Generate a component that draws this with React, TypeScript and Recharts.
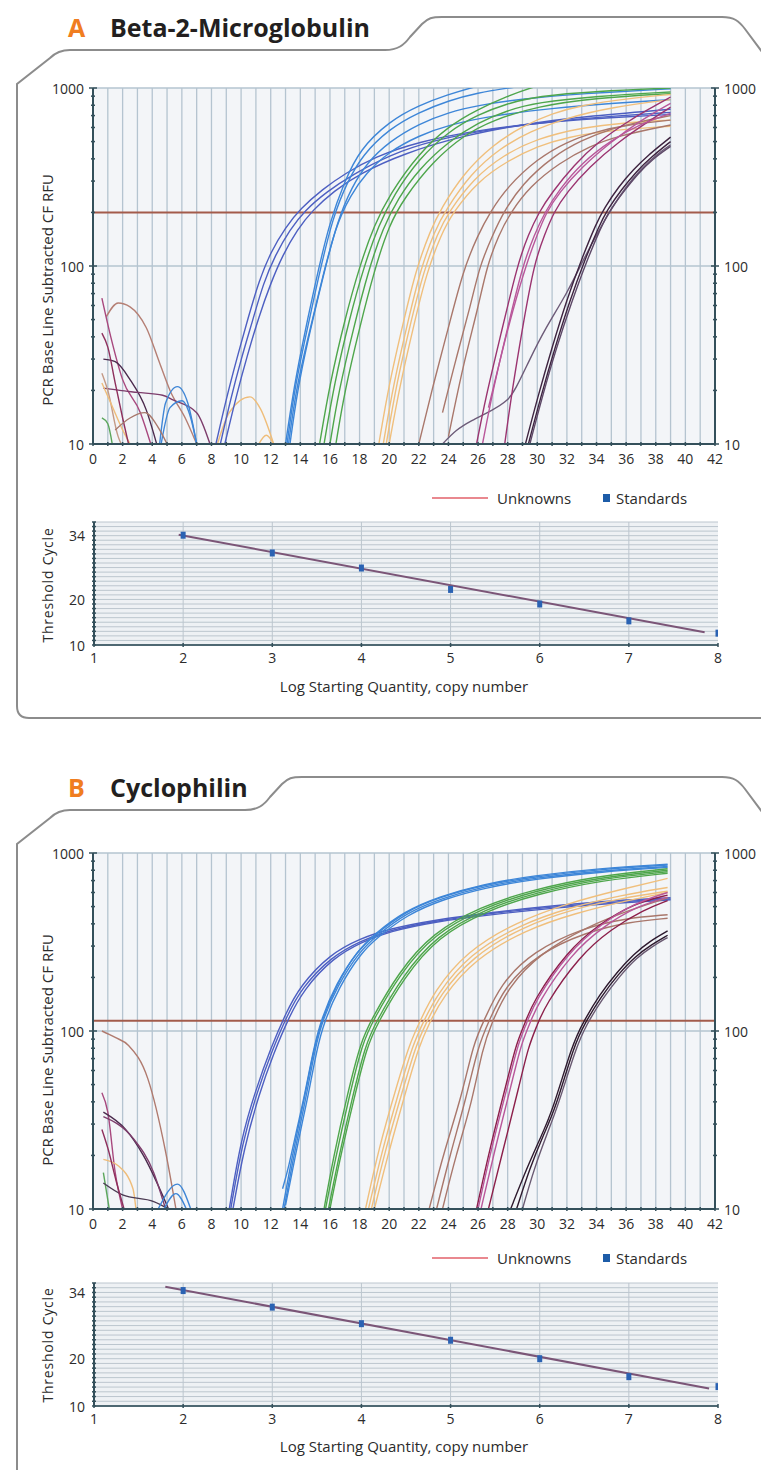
import {
  LineChart,
  Line,
  XAxis,
  YAxis,
  CartesianGrid,
  ReferenceLine,
  ComposedChart,
  Scatter,
} from 'recharts'

type Pt = [number, number]

// amplification curves, [cycle, RFU] pairs
const A_DARK_BLUE: Pt[][] = [
  [[8.3, 10], [9, 18], [9.7, 30], [10.5, 52], [11.2, 82], [12, 120], [13, 165], [14, 210], [15.5, 270], [17, 330], [19, 410], [22, 500], [26, 580], [30, 635], [34, 675], [39, 710]],
  [[8.6, 10], [9.3, 18], [10, 30], [10.8, 50], [11.5, 80], [12.3, 115], [13.3, 160], [14.3, 205], [15.8, 262], [17.5, 325], [20, 420], [23, 510], [27, 590], [31, 650], [35, 695], [39, 730]],
  [[8.9, 10], [9.7, 19], [10.4, 31], [11.2, 52], [12, 80], [12.8, 115], [13.8, 160], [14.8, 205], [16.3, 265], [18, 330], [21, 430], [25, 540], [29, 625], [33, 690], [39, 760]],
]
const A_LIGHT_BLUE: Pt[][] = [
  [[13.0, 10], [13.5, 19], [14, 32], [15, 80], [16, 180], [17, 300], [18, 450], [20, 650], [22, 800], [24, 920], [25.5, 1000], [27, 1080]],
  [[13.1, 10], [13.6, 20], [14.2, 35], [15.2, 85], [16.2, 190], [17.2, 300], [18.2, 420], [20, 590], [22, 730], [24, 850], [26, 940], [28, 1000], [30, 1050]],
  [[13.3, 10], [13.8, 20], [14.5, 38], [15.5, 85], [16.5, 180], [17.5, 280], [18.5, 380], [20, 500], [22, 630], [24, 730], [26, 800], [29, 870], [33, 930], [39, 990]],
  [[13.2, 10], [13.7, 20], [14.4, 36], [15.4, 80], [16.4, 170], [17.4, 250], [18.4, 330], [20, 440], [22, 540], [24, 620], [27, 700], [31, 770], [35, 820], [39, 860]],
]
const A_GREEN: Pt[][] = [
  [[15.3, 10], [16, 22], [17, 50], [18, 100], [19, 170], [20, 250], [22, 430], [24, 610], [26, 760], [28, 900], [29.5, 1000], [31, 1080]],
  [[15.6, 10], [16.3, 22], [17.3, 50], [18.3, 100], [19.3, 170], [20.3, 250], [22, 400], [24, 570], [26, 710], [28, 820], [30, 900], [34, 960], [39, 1000]],
  [[16.0, 10], [16.6, 20], [17.6, 45], [18.6, 95], [19.6, 165], [20.6, 240], [22, 350], [24, 500], [26, 640], [28, 750], [30, 830], [34, 900], [39, 950]],
  [[16.4, 10], [17, 20], [18, 45], [19, 95], [20, 170], [21, 240], [23, 390], [25, 540], [27, 660], [30, 790], [34, 880], [39, 930]],
]
const A_ORANGE: Pt[][] = [
  [[19.3, 10], [20, 22], [21, 50], [21.8, 95], [22.8, 160], [23.5, 210], [25, 330], [27, 480], [29, 610], [31, 720], [33, 800], [36, 870], [39, 920]],
  [[19.6, 10], [20.3, 22], [21.3, 50], [22.1, 95], [23.1, 160], [23.8, 205], [25.5, 330], [27.5, 460], [29.5, 570], [32, 680], [35, 780], [39, 860]],
  [[20.0, 10], [20.7, 21], [21.7, 48], [22.5, 90], [23.5, 150], [24.3, 200], [26, 300], [28, 390], [30, 470], [32, 530], [35, 580], [39, 610]],
  [[19.8, 10], [20.5, 22], [21.5, 50], [22.3, 92], [23.3, 155], [24, 200], [25.7, 310], [27.7, 420], [30, 520], [33, 600], [36, 640], [39, 660]],
]
const A_BROWN: Pt[][] = [
  [[22.0, 10], [23, 22], [24, 45], [25, 95], [26, 150], [26.8, 200], [28, 280], [30, 400], [32, 500], [34, 570], [36, 620], [39, 660]],
  [[23.6, 15], [24.5, 30], [25.5, 60], [26.1, 100], [27, 150], [27.7, 200], [29, 290], [31, 410], [33, 510], [35, 590], [37, 650], [39, 700]],
  [[24.0, 11], [25, 28], [26, 58], [26.6, 100], [27.4, 150], [28.2, 200], [29.5, 280], [31.5, 380], [33.5, 470], [35.5, 540], [39, 620]],
]
const A_MAGENTA: Pt[][] = [
  [[25.9, 10], [26.5, 18], [27.5, 40], [28.7, 105], [29.4, 150], [30.1, 200], [31, 260], [32.5, 370], [34, 490], [36, 640], [37.5, 760], [39, 890]],
  [[26.7, 16], [27.5, 30], [28.3, 55], [29.3, 105], [30, 150], [30.6, 200], [31.5, 260], [33, 360], [35, 500], [37, 660], [39, 820]],
  [[27.8, 10], [28.3, 20], [29, 45], [29.8, 105], [30.5, 150], [31.1, 200], [32, 260], [33.5, 360], [35.5, 500], [37.5, 650], [39, 780]],
  [[26.3, 10], [27, 20], [28, 45], [29, 100], [29.8, 150], [30.5, 200], [31.5, 270], [33, 380], [35, 510], [37, 630], [39, 720]],
]
const A_DARK: Pt[][] = [
  [[29.2, 10], [30, 18], [31, 35], [32, 65], [33, 110], [34, 175], [34.5, 210], [35.5, 280], [36.5, 350], [37.5, 420], [38.5, 490], [39, 530]],
  [[29.5, 10], [30.3, 18], [31.3, 35], [32.3, 62], [33.3, 105], [34.3, 165], [34.8, 200], [35.8, 260], [36.8, 330], [37.8, 400], [39, 470]],
  [[29.4, 10], [30.2, 18], [31.2, 35], [32.2, 64], [33.2, 108], [34.2, 170], [34.7, 205], [35.7, 270], [36.7, 340], [37.7, 410], [39, 500]],
]
const A_SLATE: Pt[][] = [
  [[23.6, 10], [24.5, 12], [25.5, 13.5], [27, 15.5], [28, 17.5], [28.5, 20], [29.5, 30], [30.5, 44], [32, 70], [33.1, 108], [34, 150], [35, 210], [36, 280], [37, 350], [38, 420], [39, 480]],
]
const A_NOISE: Pt[][] = [
  [[0.9, 52], [1.7, 62], [2.5, 59], [3.6, 45], [4.5, 28.5], [5.2, 20], [6.3, 13.6], [7, 10]],
  [[0.6, 66], [1.2, 40], [2, 23], [3.2, 15], [3.9, 10]],
  [[0.7, 30], [1.5, 29], [2.5, 23], [3.6, 15.5], [4.3, 10]],
  [[0.7, 20.6], [1.8, 20], [3, 19.5], [4.7, 18.8], [5.4, 17.7], [7, 15], [7.9, 10]],
  [[4.5, 10], [4.9, 17], [5.7, 21], [6.4, 17], [7, 10]],
  [[4.6, 10], [5.2, 16], [6, 17.5], [6.6, 14], [7, 10]],
  [[8.4, 10], [9.2, 15], [10.6, 18.4], [11.3, 15.8], [12.2, 10]],
  [[11.2, 10], [11.7, 11.2], [12.2, 10]],
  [[0.6, 25], [1, 20], [1.7, 11], [1.9, 10]],
  [[0.6, 14], [1, 13], [1.3, 10]],
  [[0.6, 22], [1.2, 17], [2, 12], [2.5, 10]],
  [[0.6, 42], [1, 35], [1.5, 22], [2, 14], [2.4, 10]],
  [[1.5, 12], [2.5, 14], [3.5, 15], [4.5, 12], [5, 10]],
]

const B_DARK_BLUE: Pt[][] = [
  [[9.2, 10], [10, 25], [11, 47], [12, 80], [13, 125], [14, 180], [16, 270], [18, 330], [20, 375], [23, 420], [27, 465], [31, 505], [35, 540], [39, 560]],
  [[9.3, 10], [10.1, 24], [11.1, 46], [12.1, 78], [13.1, 122], [14.1, 175], [16.1, 262], [18.1, 322], [20, 368], [23, 415], [27, 460], [31, 498], [35, 530], [39, 552]],
  [[9.45, 10], [10.2, 22], [11.2, 44], [12.2, 75], [13.2, 118], [14.2, 170], [16.2, 258], [18.2, 318], [20, 362], [23, 410], [27, 452], [31, 490], [35, 522], [39, 545]],
]
const B_LIGHT_BLUE: Pt[][] = [
  [[12.8, 10], [13.3, 17], [13.9, 30], [14.3, 43], [14.9, 78], [15.4, 112], [16.4, 180], [17.8, 280], [19, 345], [21, 465], [23.4, 565], [26.3, 660], [29.7, 735], [34.2, 810], [38.8, 855]],
  [[12.9, 10], [13.4, 17], [14, 30], [14.4, 43], [15, 80], [15.5, 115], [16.5, 180], [18, 280], [19.1, 340], [21.1, 458], [23.5, 555], [26.4, 650], [29.8, 725], [34.3, 795], [38.8, 840]],
  [[13.0, 10.5], [13.5, 17], [14.1, 30], [14.5, 42], [15.1, 78], [15.6, 112], [16.6, 176], [18.1, 275], [19.2, 335], [21.2, 450], [23.6, 548], [26.5, 640], [29.9, 715], [34.4, 785], [38.8, 830]],
  [[12.8, 13], [13.2, 17], [13.8, 29], [14.3, 44], [14.9, 80], [15.4, 116], [16.4, 184], [17.9, 285], [19, 350], [21, 470], [23.4, 570], [26.3, 668], [29.7, 745], [34.2, 820], [38.8, 865]],
]
const B_GREEN: Pt[][] = [
  [[15.7, 10], [16.3, 18], [17.3, 43], [18.2, 86], [18.9, 114], [20.7, 208], [23, 350], [26.3, 490], [29.7, 610], [34.2, 730], [38.8, 800]],
  [[15.9, 10], [16.5, 18], [17.5, 42], [18.4, 84], [19.1, 112], [20.9, 204], [23.2, 345], [26.5, 485], [29.9, 600], [34.4, 720], [38.8, 785]],
  [[15.6, 10], [16.2, 19], [17.2, 45], [18.1, 88], [18.8, 116], [20.6, 212], [22.9, 356], [26.2, 500], [29.6, 620], [34.1, 745], [38.8, 815]],
  [[16.0, 10], [16.6, 18], [17.6, 41], [18.5, 82], [19.2, 110], [21, 200], [23.3, 340], [26.6, 475], [30, 590], [34.5, 705], [38.8, 770]],
]
const B_ORANGE: Pt[][] = [
  [[18.4, 10], [19.3, 22], [20.5, 49], [21.4, 86], [22.1, 114], [23, 165], [25.2, 280], [28.6, 410], [32, 520], [35.5, 620], [38.8, 720]],
  [[18.6, 10], [19.5, 21], [20.7, 47], [21.6, 84], [22.3, 112], [23.2, 160], [25.4, 270], [28.8, 395], [32.2, 495], [35.7, 580], [38.8, 640]],
  [[19.0, 10], [19.9, 20], [21.1, 45], [22, 82], [22.7, 110], [23.6, 155], [25.8, 255], [29.2, 370], [32.6, 460], [36, 540], [38.8, 600]],
  [[18.8, 10], [19.7, 21], [20.9, 46], [21.8, 83], [22.5, 111], [23.4, 158], [25.6, 262], [29, 385], [32.4, 485], [35.8, 560], [38.8, 610]],
]
const B_BROWN: Pt[][] = [
  [[22.7, 10], [23.7, 21], [24.9, 43], [25.7, 86], [26.4, 114], [27.5, 183], [29.7, 280], [33.1, 380], [36, 430], [38.8, 450]],
  [[23.6, 10], [24.5, 20], [25.6, 40], [26.3, 80], [26.9, 110], [28, 175], [30.2, 275], [33.5, 390], [36.3, 480], [38.8, 560]],
  [[23.2, 10], [24.1, 20], [25.2, 42], [26, 82], [26.7, 112], [27.8, 178], [30, 270], [33.3, 360], [36.2, 410], [38.8, 430]],
]
const B_MAROON: Pt[][] = [
  [[25.9, 10], [26.8, 22], [28, 54], [28.6, 86], [29.2, 112], [29.7, 146], [32, 280], [34.2, 400], [36.5, 520], [38.8, 580]],
  [[26.2, 10], [27.1, 21], [28.3, 52], [28.9, 84], [29.5, 110], [30, 142], [32.3, 272], [34.5, 390], [36.8, 505], [38.8, 565]],
  [[26.7, 10], [27.6, 20], [28.8, 50], [29.4, 82], [30, 108], [30.5, 138], [32.8, 262], [35, 375], [37.2, 480], [38.8, 540]],
  [[26.0, 10], [26.9, 22], [28.1, 53], [28.7, 85], [29.3, 111], [29.8, 145], [32.1, 278], [34.3, 398], [36.6, 525], [38.8, 600]],
]
const B_DARK: Pt[][] = [
  [[28.2, 10], [29.3, 17], [30.2, 25], [31, 35], [32.4, 86], [33.1, 112], [34.2, 160], [35.4, 215], [36.5, 270], [37.6, 320], [38.8, 365]],
  [[29.0, 10], [29.8, 17], [30.7, 27], [31.4, 38], [32.6, 80], [33.3, 108], [34.4, 152], [35.6, 205], [36.7, 258], [37.8, 300], [38.8, 335]],
  [[28.6, 10], [29.5, 17], [30.4, 26], [31.2, 36], [32.5, 84], [33.2, 110], [34.3, 156], [35.5, 210], [36.6, 262], [37.7, 305], [38.8, 345]],
]
const B_NOISE: Pt[][] = [
  [[0.6, 100], [1.5, 92], [2.4, 83], [3.7, 54], [4.9, 21], [5.6, 10]],
  [[0.6, 45], [1, 35], [1.5, 16], [2, 10]],
  [[0.7, 35], [2.2, 28], [3.4, 20], [5.1, 10]],
  [[0.7, 33], [2.7, 25], [4.1, 16], [4.9, 10]],
  [[0.7, 19], [1.7, 17.5], [2.7, 13], [2.9, 10]],
  [[0.7, 16], [1.1, 10]],
  [[0.7, 14], [2, 12], [4.1, 11], [5.1, 10]],
  [[4.4, 10], [5.7, 13.8], [6.6, 10]],
  [[4.8, 10], [5.6, 12.2], [6.3, 10]],
  [[0.6, 28], [1, 22], [1.6, 14], [2.1, 10]],
]

const A_THRESHOLD = 200
const B_THRESHOLD = 114

const AMP_X_TICKS = [0, 1, 2, 3, 4, 5, 6, 7, 8, 9, 10, 11, 12, 13, 14, 15, 16, 17, 18, 19, 20, 21, 22, 23, 24, 25, 26, 27, 28, 29, 30, 31, 32, 33, 34, 35, 36, 37, 38, 39, 40, 41, 42]
const AMP_X_LABELS = [0, 2, 4, 6, 8, 10, 12, 14, 16, 18, 20, 22, 24, 26, 28, 30, 32, 34, 36, 38, 40, 42]
const AMP_Y_LABELS = [10, 100, 1000]
const AMP_Y_MINOR = [20, 30, 40, 50, 60, 70, 80, 90, 200, 300, 400, 500, 600, 700, 800, 900]

// standard curves: log starting quantity vs threshold cycle
const STD_X = [2, 3, 4, 5, 6, 7, 8]
const A_STD_CT = [34.1, 30.2, 26.9, 22.2, 19.0, 15.3, 12.6]
const B_STD_CT = [34.4, 30.9, 27.4, 23.9, 20.0, 16.2, 14.1]
const A_FIT_X = [1.95, 7.85]
const A_FIT_CT = [34.2, 12.8]
const B_FIT_X = [1.8, 7.9]
const B_FIT_CT = [35.2, 13.7]
const STD_X_TICKS = [1, 2, 3, 4, 5, 6, 7, 8]
const STD_Y_LABELS = [10, 20, 34]

const FONT = "'Open Sans', sans-serif"
const AXIS = '#34505b'
const CYCLE_GRID = AMP_X_TICKS.filter((t) => t > 0 && t < 42)

const toPts = (c: Pt[]) => c.map(([x, v]) => ({ c: x, v }))

function CycleTick(props: any) {
  const { x, y, payload } = props
  const v = payload.value
  const axisY = y - 10
  return (
    <g>
      <line x1={x} x2={x} y1={axisY - 2} y2={axisY + 2} stroke={AXIS} strokeWidth={1.5} />
      {AMP_X_LABELS.includes(v) && (
        <text x={x} y={y} dy="0.71em" textAnchor="middle" fontSize={14} fontFamily={FONT} fill="#2b2b2b">
          {v}
        </text>
      )}
    </g>
  )
}

function LogTick(props: any) {
  const { x, y, payload, side } = props
  const v = payload.value
  const major = AMP_Y_LABELS.includes(v)
  const ax = side === 'left' ? x + 8 : x - 8
  const half = major ? 4 : 2
  return (
    <g>
      <line x1={ax - half} x2={ax + half} y1={y} y2={y} stroke={AXIS} strokeWidth={1.5} />
      {major && (
        <text
          x={side === 'left' ? x - 1 : x + 1}
          y={y}
          textAnchor={side === 'left' ? 'end' : 'start'}
          dominantBaseline="central"
          fontSize={14}
          fontFamily={FONT}
          fill="#2b2b2b"
        >
          {v}
        </text>
      )}
    </g>
  )
}

function CtTick(props: any) {
  const { x, y, payload } = props
  const v = payload.value
  const ax = x + 8
  return (
    <g>
      <line x1={ax - 2} x2={ax + 2} y1={y} y2={y} stroke={AXIS} strokeWidth={1.5} />
      {STD_Y_LABELS.includes(v) && (
        <text x={x - 1} y={y} textAnchor="end" dominantBaseline="central" fontSize={14} fontFamily={FONT} fill="#2b2b2b">
          {v}
        </text>
      )}
    </g>
  )
}

function QtyTick(props: any) {
  const { x, y, payload } = props
  const axisY = y - 8
  return (
    <g>
      <line x1={x} x2={x} y1={axisY - 2} y2={axisY + 2} stroke={AXIS} strokeWidth={1.5} />
      <text x={x} y={y} dy="0.71em" textAnchor="middle" fontSize={14} fontFamily={FONT} fill="#2b2b2b">
        {payload.value}
      </text>
    </g>
  )
}

type Group = { curves: Pt[][]; colors: string[]; smooth: boolean }

function AmpChart({ groups, threshold, top }: { groups: Group[]; threshold: number; top: number }) {
  const lines: JSX.Element[] = []
  groups.forEach((g, gi) =>
    g.curves.forEach((c, ci) =>
      lines.push(
        <Line
          key={`${gi}-${ci}`}
          data={toPts(c)}
          dataKey="v"
          type={g.smooth ? 'basis' : 'monotone'}
          stroke={g.colors[ci % g.colors.length]}
          strokeWidth={1.4}
          dot={false}
          activeDot={false}
          isAnimationActive={false}
        />
      )
    )
  )
  return (
    <div style={{ position: 'absolute', left: 0, top }}>
      <LineChart width={761} height={410} margin={{ top: 18, right: 0, bottom: 0, left: 0 }}>
        <CartesianGrid
          fill="#f3f5f8"
          stroke="#b5c4d0"
          strokeWidth={1.3}
          verticalValues={CYCLE_GRID}
          horizontalValues={[100, 1000]}
        />
        <XAxis
          type="number"
          dataKey="c"
          domain={[0, 42]}
          allowDataOverflow
          ticks={AMP_X_TICKS}
          interval={0}
          height={36}
          tickSize={0}
          tickMargin={10}
          tickLine={false}
          tick={<CycleTick />}
          axisLine={{ stroke: AXIS, strokeWidth: 2 }}
        />
        <YAxis
          scale="log"
          domain={[10, 1000]}
          allowDataOverflow
          ticks={[...AMP_Y_LABELS, ...AMP_Y_MINOR]}
          interval={0}
          width={93}
          tickSize={0}
          tickMargin={8}
          tickLine={false}
          tick={<LogTick side="left" />}
          axisLine={{ stroke: AXIS, strokeWidth: 2 }}
        />
        <YAxis
          yAxisId="r"
          orientation="right"
          scale="log"
          domain={[10, 1000]}
          allowDataOverflow
          ticks={[...AMP_Y_LABELS, ...AMP_Y_MINOR]}
          interval={0}
          width={46}
          tickSize={0}
          tickMargin={8}
          tickLine={false}
          tick={<LogTick side="right" />}
          axisLine={{ stroke: AXIS, strokeWidth: 2 }}
        />
        <ReferenceLine y={threshold} stroke="#a35b4b" strokeWidth={2} />
        {lines}
      </LineChart>
    </div>
  )
}

function StdChart({ ct, fitX, fitCt, top, yMax }: { ct: number[]; fitX: number[]; fitCt: number[]; top: number; yMax: number }) {
  const pts = STD_X.map((x, i) => ({ x, y: ct[i] }))
  const fit = fitX.map((x, i) => ({ x, y: fitCt[i] }))
  const yTicks: number[] = []
  for (let t = 10; t <= yMax; t++) yTicks.push(t)
  return (
    <div style={{ position: 'absolute', left: 0, top }}>
      <ComposedChart width={761} height={170} margin={{ top: 17, right: 43, bottom: 0, left: 0 }}>
        <CartesianGrid
          fill="#eef1f4"
          stroke="#bcc6ce"
          verticalValues={[2, 3, 4, 5, 6, 7]}
          horizontalValues={yTicks.slice(1)}
        />
        <XAxis
          type="number"
          dataKey="x"
          domain={[1, 8]}
          allowDataOverflow
          ticks={STD_X_TICKS}
          interval={0}
          height={30}
          tickSize={0}
          tickMargin={8}
          tickLine={false}
          tick={<QtyTick />}
          axisLine={{ stroke: '#4e6872', strokeWidth: 2 }}
        />
        <YAxis
          type="number"
          dataKey="y"
          domain={[10, yMax]}
          allowDataOverflow
          ticks={yTicks}
          interval={0}
          width={94}
          tickSize={0}
          tickMargin={8}
          tickLine={false}
          tick={<CtTick />}
          axisLine={{ stroke: AXIS, strokeWidth: 2 }}
        />
        <Line data={fit} dataKey="y" type="linear" stroke="#7b5577" strokeWidth={2} dot={false} activeDot={false} isAnimationActive={false} />
        <Scatter
          data={pts}
          dataKey="y"
          fill="#2a62b3"
          isAnimationActive={false}
          shape={(p: any) => <rect x={p.cx - 2.5} y={p.cy - 3.5} width={5} height={7} fill="#2a62b3" />}
        />
      </ComposedChart>
    </div>
  )
}

function Panel({ dy, letter, title, tabX }: { dy: number; letter: string; title: string; tabX: number }) {
  const bottom = dy === 0 ? 718 : 1490
  const frame = `M 780 ${bottom} L 29 ${bottom} Q 17 ${bottom} 17 ${bottom - 12} L 17 ${84 + dy} L 50 ${58 + dy} Q 58 ${50 + dy} 70 ${50 + dy} L ${tabX} ${50 + dy} C ${tabX + 13} ${50 + dy} ${tabX + 19} ${45 + dy} ${tabX + 25} ${37 + dy} L ${tabX + 37} ${24 + dy} C ${tabX + 43} ${18 + dy} ${tabX + 47} ${17 + dy} ${tabX + 57} ${17 + dy} L 722 ${17 + dy} C 734 ${17 + dy} 739 ${21 + dy} 745 ${29 + dy} L 780 ${76 + dy}`
  const ly = 498 + dy
  return (
    <g fontFamily={FONT}>
      <path d={frame} fill="none" stroke="#8c8c8c" strokeWidth={2} />
      <text x={68} y={37 + dy} fontSize={25} fontWeight={700} fill="#f07d20">
        {letter}
      </text>
      <text x={110} y={37 + dy} fontSize={25} fontWeight={700} fill="#231f20">
        {title}
      </text>
      <text x={47} y={290 + dy} fontSize={15} fill="#2b2b2b" textAnchor="middle" dominantBaseline="central" transform={`rotate(-90 47 ${290 + dy})`}>
        PCR Base Line Subtracted CF RFU
      </text>
      <line x1={432} x2={488} y1={ly} y2={ly} stroke="#e2606a" strokeWidth={1.5} />
      <text x={497} y={ly} fontSize={15} fill="#2b2b2b" dominantBaseline="central">
        Unknowns
      </text>
      <rect x={603} y={ly - 4} width={7} height={8} fill="#1d5ca8" />
      <text x={616} y={ly} fontSize={15} fill="#2b2b2b" dominantBaseline="central">
        Standards
      </text>
      <text x={47} y={585 + dy} fontSize={14} letterSpacing={0.8} fill="#2b2b2b" textAnchor="middle" dominantBaseline="central" transform={`rotate(-90 47 ${585 + dy})`}>
        Threshold Cycle
      </text>
      <text x={404} y={686 + dy} fontSize={15} fill="#2b2b2b" textAnchor="middle" dominantBaseline="central">
        Log Starting Quantity, copy number
      </text>
    </g>
  )
}

const NOISE_A_COLORS = ['#b57f74', '#a8487e', '#4b2a4d', '#7d3d6c', '#3f86d6', '#3f86d6', '#efbd7a', '#efbd7a', '#c49a86', '#5aa65a', '#efbd7a', '#8e2f5c', '#a8786c']
const NOISE_B_COLORS = ['#b07a6e', '#a8487e', '#4b2a4d', '#7d3d6c', '#efbd7a', '#5aa65a', '#4b3a52', '#3f86d6', '#3f86d6', '#8e2f5c']

export default function App() {
  const aGroups: Group[] = [
    { curves: A_NOISE, colors: NOISE_A_COLORS, smooth: false },
    { curves: A_DARK_BLUE, colors: ['#4d5fc2'], smooth: true },
    { curves: A_LIGHT_BLUE, colors: ['#3d86d8'], smooth: true },
    { curves: A_GREEN, colors: ['#4ea64b'], smooth: true },
    { curves: A_ORANGE, colors: ['#f0bf7c'], smooth: true },
    { curves: A_BROWN, colors: ['#a9776b'], smooth: true },
    { curves: A_SLATE, colors: ['#6d5b78'], smooth: true },
    { curves: A_MAGENTA, colors: ['#9b3470', '#b9579a'], smooth: true },
    { curves: A_DARK, colors: ['#3e2440', '#5e4968'], smooth: true },
  ]
  const bGroups: Group[] = [
    { curves: B_NOISE, colors: NOISE_B_COLORS, smooth: false },
    { curves: B_DARK_BLUE, colors: ['#4d5fc2'], smooth: true },
    { curves: B_LIGHT_BLUE, colors: ['#3d86d8'], smooth: true },
    { curves: B_GREEN, colors: ['#4ea64b'], smooth: true },
    { curves: B_ORANGE, colors: ['#f0bf7c'], smooth: true },
    { curves: B_BROWN, colors: ['#a9776b'], smooth: true },
    { curves: B_MAROON, colors: ['#8c1f4a', '#b9579a'], smooth: true },
    { curves: B_DARK, colors: ['#2e1a2e', '#6a5a72'], smooth: true },
  ]
  return (
    <div style={{ position: 'absolute', left: 0, top: 0, width: 761, height: 1470, background: '#fff', overflow: 'hidden' }}>
      <svg width={761} height={1470} style={{ position: 'absolute', left: 0, top: 0 }}>
        <Panel dy={0} letter="A" title="Beta-2-Microglobulin" tabX={385} />
        <Panel dy={760} letter="B" title="Cyclophilin" tabX={245} />
      </svg>
      <AmpChart groups={aGroups} threshold={A_THRESHOLD} top={70} />
      <StdChart ct={A_STD_CT} fitX={A_FIT_X} fitCt={A_FIT_CT} top={505} yMax={37} />
      <AmpChart groups={bGroups} threshold={B_THRESHOLD} top={835} />
      <StdChart ct={B_STD_CT} fitX={B_FIT_X} fitCt={B_FIT_CT} top={1266} yMax={36} />
    </div>
  )
}
